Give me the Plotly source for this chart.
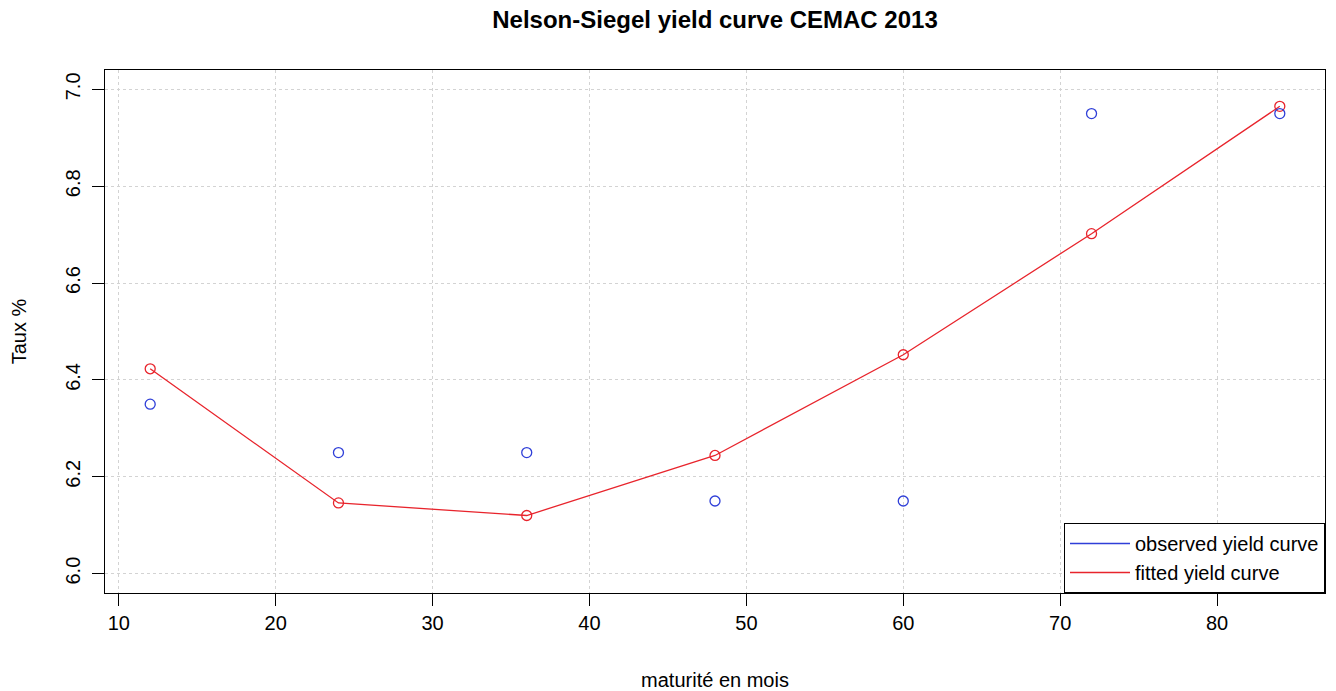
import plotly.graph_objects as go

maturities = [12, 24, 36, 48, 60, 72, 84]
observed = [6.35, 6.25, 6.25, 6.15, 6.15, 6.95, 6.95]
fitted = [6.423, 6.146, 6.120, 6.244, 6.452, 6.702, 6.965]
x_ticks = [10, 20, 30, 40, 50, 60, 70, 80]
y_ticks = [6.0, 6.2, 6.4, 6.6, 6.8, 7.0]

BLUE = "#2f3fd8"
RED = "#e8242c"
FONT = "Liberation Sans, Arial, sans-serif"

fig = go.Figure()
fig.add_trace(go.Scatter(x=maturities, y=fitted, mode="lines+markers",
                         line=dict(color=RED, width=1.3),
                         marker=dict(symbol="circle-open", size=10, color=RED, line=dict(width=1.3)),
                         showlegend=False, hoverinfo="x+y"))
fig.add_trace(go.Scatter(x=maturities, y=observed, mode="markers",
                         marker=dict(symbol="circle-open", size=10, color=BLUE, line=dict(width=1.3)),
                         showlegend=False, hoverinfo="x+y"))
# legend entries (line samples as in the original)
fig.add_trace(go.Scatter(x=[None], y=[None], mode="lines", name="observed yield curve",
                         line=dict(color=BLUE, width=1.3)))
fig.add_trace(go.Scatter(x=[None], y=[None], mode="lines", name="fitted yield curve",
                         line=dict(color=RED, width=1.3)))

fig.update_layout(
    width=1336, height=691,
    paper_bgcolor="white", plot_bgcolor="white",
    margin=dict(l=105, r=11, t=70, b=98),
    font=dict(family=FONT, size=20, color="black"),
    title=dict(text="<b>Nelson-Siegel yield curve CEMAC 2013</b>", x=0.5, xref="paper",
               y=1 - 20 / 691, yanchor="middle", font=dict(size=24, family=FONT, color="black")),
    legend=dict(x=1, xanchor="right", y=0, yanchor="bottom", bordercolor="black", borderwidth=1,
                bgcolor="white", font=dict(size=20, family=FONT), itemwidth=60,
                tracegroupgap=0),
)
fig.update_xaxes(range=[9.12, 86.88], tickvals=x_ticks, ticks="outside", ticklen=12,
                 tickcolor="black", showline=True, linecolor="black", linewidth=1, mirror=True,
                 showgrid=True, gridcolor="#d3d3d3", griddash="dot", gridwidth=1, zeroline=False,
                 tickfont=dict(size=20), ticklabelstandoff=0, automargin=False,
                 title=dict(text="maturité en mois", font=dict(size=20), standoff=41))
fig.update_yaxes(range=[5.96, 7.04], tickvals=y_ticks, ticktext=[f"{v:.1f}" for v in y_ticks],
                 ticks="outside", ticklen=12, tickangle=-90,
                 tickcolor="black", showline=True, linecolor="black", linewidth=1, mirror=True,
                 showgrid=True, gridcolor="#d3d3d3", griddash="dot", gridwidth=1, zeroline=False,
                 tickfont=dict(size=20), ticklabelstandoff=4, automargin=False,
                 title=dict(text="Taux %", font=dict(size=20), standoff=30))

fig.write_html("out.html")
